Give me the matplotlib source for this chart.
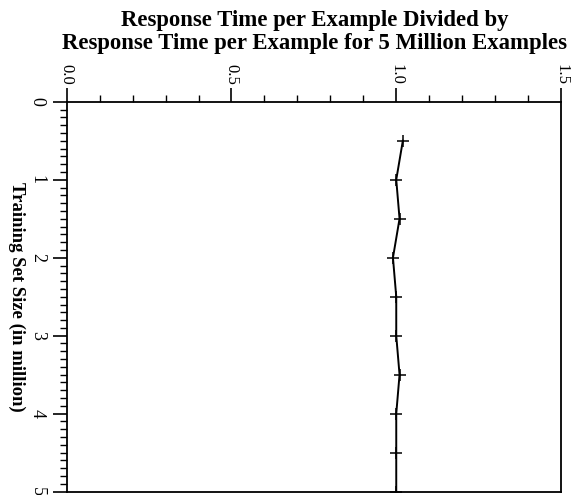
import numpy as np
import matplotlib
matplotlib.use('Agg')
import matplotlib.pyplot as plt
from matplotlib.ticker import MultipleLocator

# Data
train_size = [0.5, 1.0, 1.5, 2.0, 2.5, 3.0, 3.5, 4.0, 4.5, 5.0]
time_ratio = [1.02, 1.0, 1.01, 0.99, 1.0, 1.0, 1.01, 1.0, 1.0, 1.0]
x_ticks = [0.0, 0.5, 1.0, 1.5]
y_ticks = [0, 1, 2, 3, 4, 5]

plt.rcParams['font.family'] = ['Liberation Serif', 'DejaVu Serif']

fig = plt.figure(figsize=(5.73, 4.95), dpi=100)
ax = fig.add_axes([0.1164, 0.0067, 0.8627, 0.7878])

ax.plot(time_ratio, train_size, color='black', lw=1.4,
        marker='+', ms=9, mew=1.1)

ax.set_xlim(0, 1.5)
ax.set_ylim(5, 0)
ax.set_xticks(x_ticks)
ax.set_xticklabels(['%.1f' % v for v in x_ticks], rotation=-90, fontsize=12)
ax.set_yticks(y_ticks)
ax.set_yticklabels([str(v) for v in y_ticks], rotation=-90, fontsize=13, va='center')
ax.xaxis.set_minor_locator(MultipleLocator(0.1))
ax.yaxis.set_minor_locator(MultipleLocator(0.1))

ax.xaxis.tick_top()
ax.tick_params(axis='x', which='both', direction='out', top=True, bottom=False, pad=2)
ax.tick_params(axis='y', which='both', direction='out', left=True, right=False, pad=5)
ax.tick_params(which='major', length=10, width=1.2)
ax.tick_params(which='minor', length=5, width=1.0)
for s in ax.spines.values():
    s.set_linewidth(1.3)

ax.set_ylabel('Training Set Size (in million)', rotation=-90, fontsize=13.5,
              fontweight='bold', labelpad=9, va='center')

fig.text(0.549, 0.979, 'Response Time per Example Divided by\n'
         'Response Time per Example for 5 Million Examples',
         ha='center', va='top', fontsize=16.4, fontweight='bold', linespacing=1.1)

fig.savefig('out.png', dpi=100)
